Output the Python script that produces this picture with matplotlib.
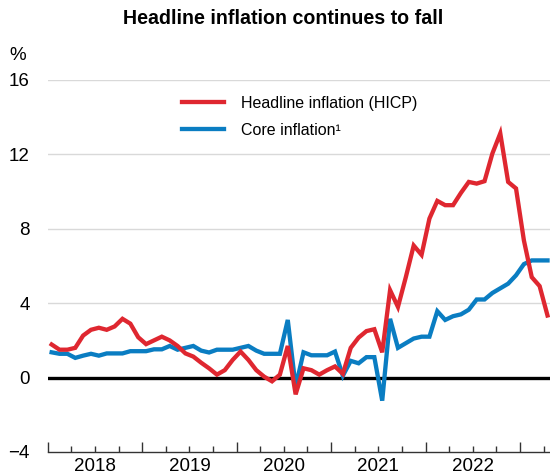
import numpy as np
import matplotlib
matplotlib.use("Agg")
import matplotlib.pyplot as plt
import matplotlib.transforms as mtransforms

plt.rcParams['font.family'] = ['Liberation Sans', 'DejaVu Sans']

# monthly data, Jan 2018 - Apr 2023
start_year = 2018
headline = [1.78, 1.5, 1.5, 1.6, 2.26, 2.57, 2.68, 2.57, 2.75, 3.16, 2.9, 2.17,
            1.8, 2.0, 2.2, 2.0, 1.7, 1.3, 1.13, 0.8, 0.5, 0.16, 0.4, 0.95,
            1.4, 0.95, 0.4, 0.05, -0.2, 0.16, 1.7, -0.9, 0.5, 0.4, 0.16, 0.4,
            0.6, 0.2, 1.6, 2.15, 2.5, 2.6, 1.36, 4.7, 3.8, 5.4, 7.1, 6.6,
            8.55, 9.5, 9.27, 9.27, 9.93, 10.52, 10.43, 10.56, 12.05, 13.13, 10.52, 10.17,
            7.38, 5.4, 4.92, 3.34]
core = [1.36, 1.28, 1.28, 1.06, 1.18, 1.28, 1.18, 1.3, 1.3, 1.3, 1.42, 1.42,
        1.42, 1.52, 1.52, 1.7, 1.5, 1.6, 1.7, 1.45, 1.35, 1.5, 1.5, 1.5,
        1.6, 1.7, 1.45, 1.28, 1.28, 1.28, 3.1, -0.5, 1.36, 1.2, 1.2, 1.2,
        1.4, 0.1, 0.9, 0.77, 1.1, 1.1, -1.24, 3.16, 1.6, 1.85, 2.1, 2.2,
        2.2, 3.57, 3.1, 3.3, 3.4, 3.65, 4.2, 4.2, 4.55, 4.8, 5.05, 5.5,
        6.1, 6.3, 6.3, 6.3]
years = [2018, 2019, 2020, 2021, 2022]
y_ticks = [-4, 0, 4, 8, 12, 16]

# mid-month positions in decimal years
x = start_year + (np.arange(len(headline)) + 0.5) / 12

RED = '#DF2730'
BLUE = '#0A7DC2'

fig = plt.figure(figsize=(5.5, 4.74), dpi=100)
ax = fig.add_axes([47.7 / 550, 22 / 474, 1 - 47.7 / 550, 372 / 474])

for v in y_ticks[2:]:
    ax.axhline(v, color='#d9d9d9', lw=1, zorder=0)
ax.axhline(0, color='black', lw=2.4, zorder=1)

ax.plot(x, headline, color=RED, lw=3.1, label='Headline inflation (HICP)', zorder=3,
        solid_joinstyle='miter')
ax.plot(x, core, color=BLUE, lw=3.1, label='Core inflation¹', zorder=2,
        solid_joinstyle='miter')

ax.set_ylim(-4, 16)
ax.set_xlim(2018, 2018 + (550 - 47.7) / 94.45)
ax.set_yticks(y_ticks)
ax.tick_params(axis='y', length=0, pad=13, labelsize=13.5)

ax.set_xticks(np.arange(2018, 2024))
ax.set_xticks(np.arange(2018, 2023.5, 0.25), minor=True)
ax.tick_params(axis='x', which='major', direction='in', length=7, width=1,
               color='#333333', labelbottom=False)
ax.tick_params(axis='x', which='minor', direction='in', length=4, width=1,
               color='#333333')

trans = mtransforms.blended_transform_factory(ax.transData, ax.transAxes)
for yr in years:
    ax.text(yr + 0.5, -0.038, str(yr), transform=trans, ha='center', va='center',
            fontsize=13.5)

for s in ['top', 'right', 'left']:
    ax.spines[s].set_visible(False)
ax.spines['bottom'].set_color('#333333')
ax.spines['bottom'].set_linewidth(1)

fig.text(18 / 550, 1 - 55 / 474, '%', fontsize=13.5, ha='center', va='center')
fig.text(283 / 550, 1 - 18 / 474, 'Headline inflation continues to fall',
         fontsize=14.1, fontweight='bold', ha='center', va='center')

leg = ax.legend(loc='upper left', bbox_to_anchor=(182 / 550, 1 - 96 / 474),
                bbox_transform=fig.transFigure, frameon=False, fontsize=11.5,
                handlelength=2.6, handletextpad=1.1, labelspacing=0.75,
                borderpad=0, borderaxespad=0)

fig.savefig('out.png', dpi=100)
